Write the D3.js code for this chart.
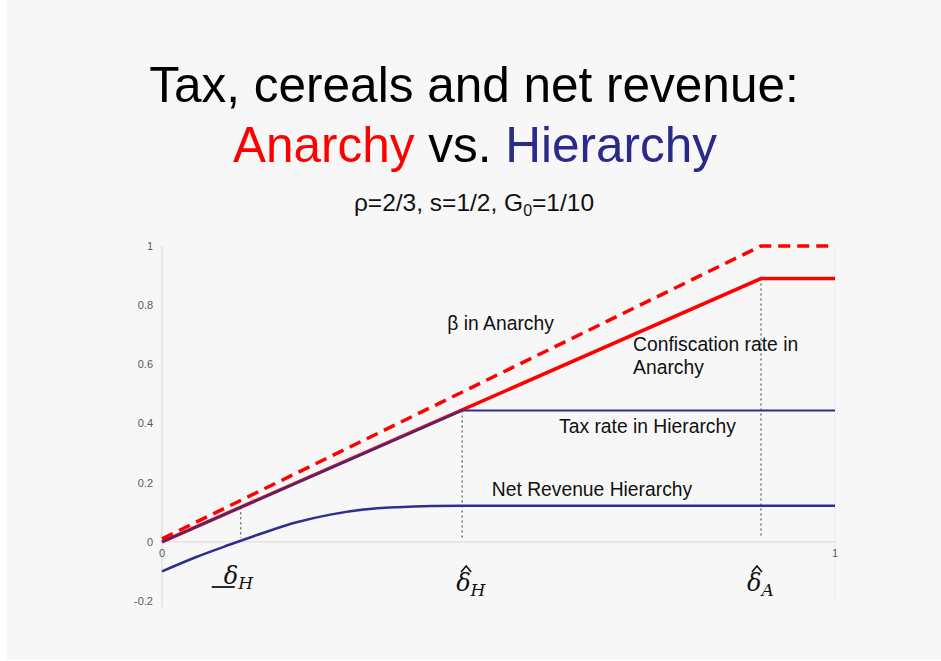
<!DOCTYPE html>
<html>
<head>
<meta charset="utf-8">
<script src="https://cdn.jsdelivr.net/npm/d3@7"></script>
<style>
  body { margin: 0; background: #ffffff; }
  svg { display: block; }
</style>
</head>
<body>
<svg id="chart"></svg>
<script>
// values
var betaX = [0, 0.89, 1];
var betaY = [0.01, 1, 1];
var confX = [0, 0.89, 1];
var confY = [0, 0.89, 0.89];
var taxX = [0, 0.446, 1];
var taxY = [0, 0.444, 0.444];
var netX = [0, 0.05, 0.1, 0.15, 0.2, 0.25, 0.3, 0.35, 0.4, 0.446, 1];
var netY = [-0.1, -0.052, -0.01, 0.03, 0.066, 0.092, 0.109, 0.117, 0.121, 0.122, 0.122];
var yTicks = [-0.2, 0, 0.2, 0.4, 0.6, 0.8, 1];
var xTicks = [0, 1];
var deltaLowH = 0.117, deltaHatH = 0.446, deltaHatA = 0.89;

draw();

function zip(xs, ys){
  return xs.map(function(x, i){ return [x, ys[i]]; });
}

function draw(){
  var width = 941, height = 661;

  var svg = d3.select("#chart")
              .attr("width", width)
              .attr("height", height);

  svg.append("rect")
     .attr("x", 7).attr("y", 0)
     .attr("width", width - 7).attr("height", height - 1)
     .attr("fill", "#f7f7f7");

  var x = d3.scaleLinear().domain([0, 1]).range([162, 835]);
  var y = d3.scaleLinear().domain([-0.2, 1]).range([601, 246]);

  // titles
  var title = svg.append("g")
                 .attr("font-family", "'Liberation Sans', Arial, sans-serif")
                 .attr("text-anchor", "middle");
  title.append("text")
       .attr("x", 474).attr("y", 102)
       .attr("font-size", 49.5)
       .attr("fill", "#000")
       .text("Tax, cereals and net revenue:");
  var t2 = title.append("text")
                .attr("x", 475).attr("y", 162)
                .attr("font-size", 49.5);
  t2.append("tspan").attr("fill", "#ff0000").text("Anarchy");
  t2.append("tspan").attr("fill", "#000").text(" vs. ");
  t2.append("tspan").attr("fill", "#2b2a8a").text("Hierarchy");

  var sub = title.append("text")
                 .attr("x", 474).attr("y", 211)
                 .attr("font-size", 24.5)
                 .attr("fill", "#111");
  sub.append("tspan").text("\u03c1=2/3, s=1/2, G");
  sub.append("tspan").attr("font-size", 16).attr("dy", 5).text("0");
  sub.append("tspan").attr("dy", -5).text("=1/10");

  // axes (light gray lines)
  svg.append("line")
     .attr("x1", x(0)).attr("x2", x(0))
     .attr("y1", y(1)).attr("y2", y(-0.2) + 6)
     .attr("stroke", "#d8d8d8");
  svg.append("line")
     .attr("x1", x(0)).attr("x2", x(1))
     .attr("y1", y(0)).attr("y2", y(0))
     .attr("stroke", "#d8d8d8");
  svg.append("line")
     .attr("x1", x(1)).attr("x2", x(1))
     .attr("y1", y(1)).attr("y2", y(-0.2))
     .attr("stroke", "#ececec");

  svg.append("g")
     .selectAll("text")
     .data(yTicks)
     .enter()
     .append("text")
     .attr("x", 153)
     .attr("y", function(d){ return y(d); })
     .attr("dy", "0.35em")
     .attr("text-anchor", "end")
     .attr("font-family", "'Liberation Sans', Arial, sans-serif")
     .attr("font-size", 11)
     .attr("fill", "#5a5a5a")
     .text(function(d){ return String(d); });

  svg.append("g")
     .selectAll("text")
     .data(xTicks)
     .enter()
     .append("text")
     .attr("x", function(d){ return x(d); })
     .attr("y", y(0) + 15)
     .attr("text-anchor", "middle")
     .attr("font-family", "'Liberation Sans', Arial, sans-serif")
     .attr("font-size", 11)
     .attr("fill", "#5a5a5a")
     .text(function(d){ return d; });

  // dotted guides
  var guides = [[deltaLowH, deltaLowH], [deltaHatH, 0.444], [deltaHatA, 0.89]];
  svg.append("g")
     .selectAll("line")
     .data(guides)
     .enter()
     .append("line")
     .attr("x1", function(d){ return x(d[0]); })
     .attr("x2", function(d){ return x(d[0]); })
     .attr("y1", function(d){ return y(d[1]); })
     .attr("y2", y(0) - 4)
     .attr("stroke", "#555")
     .attr("stroke-width", 1.2)
     .attr("stroke-dasharray", "2,3");

  var line = d3.line()
               .x(function(d){ return x(d[0]); })
               .y(function(d){ return y(d[1]); });
  var smooth = d3.line()
                 .x(function(d){ return x(d[0]); })
                 .y(function(d){ return y(d[1]); })
                 .curve(d3.curveMonotoneX);

  svg.append("path")
     .attr("d", line(zip(betaX, betaY)))
     .attr("fill", "none")
     .attr("stroke", "#ff0000")
     .attr("stroke-width", 3.5)
     .attr("stroke-dasharray", "12,7");
  svg.append("path")
     .attr("d", line(zip(confX, confY)))
     .attr("fill", "none")
     .attr("stroke", "#ff0000")
     .attr("stroke-width", 3.5);
  svg.append("path")
     .attr("d", line(zip(taxX, taxY)))
     .attr("fill", "none")
     .attr("stroke", "#2e2e8e")
     .attr("stroke-width", 2);
  svg.append("path")
     .attr("d", smooth(zip(netX, netY)))
     .attr("fill", "none")
     .attr("stroke", "#2e2e8e")
     .attr("stroke-width", 2.5);

  // annotations
  var notes = [
    {t: "\u03b2 in Anarchy", x: 0.424, y: 0.715},
    {t: "Confiscation rate in", x: 0.700, y: 0.646},
    {t: "Anarchy", x: 0.700, y: 0.567},
    {t: "Tax rate in Hierarchy", x: 0.590, y: 0.367},
    {t: "Net Revenue Hierarchy", x: 0.490, y: 0.154}
  ];
  svg.append("g")
     .selectAll("text")
     .data(notes)
     .enter()
     .append("text")
     .attr("x", function(d){ return x(d.x); })
     .attr("y", function(d){ return y(d.y); })
     .attr("font-family", "'Liberation Sans', Arial, sans-serif")
     .attr("font-size", 19.3)
     .attr("fill", "#111")
     .text(function(d){ return d.t; });

  // delta labels
  var deltas = [
    {sub: "H", x: deltaLowH, dx: -17, by: 584, hat: false},
    {sub: "H", x: deltaHatH, dx: -6, by: 591, hat: true},
    {sub: "A", x: deltaHatA, dx: -14, by: 591, hat: true}
  ];
  var dl = svg.append("g")
              .selectAll("text")
              .data(deltas)
              .enter()
              .append("text")
              .attr("x", function(d){ return x(d.x) + d.dx; })
              .attr("y", function(d){ return d.by; })
              .attr("font-family", "'DejaVu Serif', 'Liberation Serif', serif")
              .attr("font-style", "italic")
              .attr("font-size", 24)
              .attr("fill", "#111");
  dl.append("tspan").text("\u03b4");
  dl.append("tspan")
    .attr("font-size", 17)
    .attr("dy", 5)
    .text(function(d){ return d.sub; });

  // underline of the lower delta
  svg.append("line")
     .attr("x1", x(deltaLowH) - 29).attr("x2", x(deltaLowH) - 6)
     .attr("y1", 587).attr("y2", 587)
     .attr("stroke", "#111")
     .attr("stroke-width", 1.8);

  // circumflex hats over the delta glyphs
  svg.append("g")
     .selectAll("path")
     .data(deltas.filter(function(d){ return d.hat; }))
     .enter()
     .append("path")
     .attr("d", function(d){
       var cx = x(d.x) + d.dx + 10;
       return "M" + (cx - 5) + "," + 572 + "L" + cx + "," + 566 + "L" + (cx + 5) + "," + 572;
     })
     .attr("fill", "none")
     .attr("stroke", "#111")
     .attr("stroke-width", 1.6);
}
</script>
</body>
</html>
